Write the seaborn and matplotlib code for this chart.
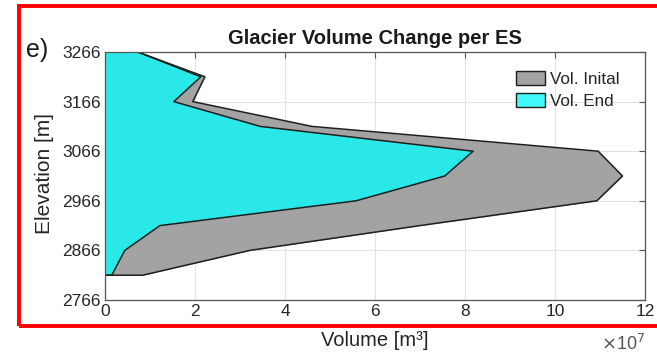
import pandas as pd
import matplotlib.pyplot as plt
import seaborn as sns
from matplotlib.patches import Patch, Rectangle
from matplotlib.ticker import FuncFormatter

# elevation bands (m) and volumes (m3)
elevacion = [2816, 2866, 2916, 2966, 3016, 3066, 3116, 3166, 3216, 3266]
vol_inicial = [0.84e7, 3.22e7, 7.0e7, 10.93e7, 11.5e7, 10.96e7, 4.6e7, 1.95e7, 2.22e7, 0.73e7]
vol_final = [0.15e7, 0.44e7, 1.22e7, 5.58e7, 7.55e7, 8.18e7, 3.45e7, 1.53e7, 2.13e7, 0.73e7]
y_ticks = [2766, 2866, 2966, 3066, 3166, 3266]
x_ticks = [0, 2e7, 4e7, 6e7, 8e7, 10e7, 12e7]

gris = '#a3a3a3'
cian = '#2be8e8'

sns.set_style('white')
plt.rcParams['font.family'] = ['Liberation Sans', 'DejaVu Sans']

fig = plt.figure(figsize=(6.57, 3.54), dpi=100)
ax = fig.add_axes([105 / 657, 1 - 300 / 354, 540 / 657, 248 / 354])

ax.fill_betweenx(elevacion, 0, vol_inicial, color=gris, lw=0, zorder=2)
ax.fill_betweenx(elevacion, 0, vol_final, color=cian, lw=0, zorder=3)


def contorno(vols):
    return pd.DataFrame({'vol': [0] + vols, 'elev': [elevacion[0]] + elevacion})


sns.lineplot(data=contorno(vol_inicial), x='vol', y='elev', sort=False,
             color='#1e1e1e', lw=1.1, ax=ax, zorder=4)
sns.lineplot(data=contorno(vol_final), x='vol', y='elev', sort=False,
             color='#1e1e1e', lw=1.1, ax=ax, zorder=5)

ax.set_xlim(0, 12e7)
ax.set_ylim(2766, 3266)
ax.set_xticks(x_ticks)
ax.set_yticks(y_ticks)
ax.xaxis.set_major_formatter(FuncFormatter(lambda v, p: f'{v / 1e7:g}'))
ax.grid(True, color='#e2e2e2', lw=0.8, zorder=0)
ax.set_axisbelow(True)
ax.tick_params(direction='in', length=4, width=0.8, colors='#555555',
               labelcolor='#262626', labelsize=12.5, top=True, right=True, pad=3)
for s in ax.spines.values():
    s.set_color('#555555')
    s.set_linewidth(0.9)
    s.set_zorder(6)
ax.set_xlabel('')
ax.set_ylabel('')

handles = [Patch(facecolor=gris, edgecolor='#1e1e1e', lw=1.0),
           Patch(facecolor='#40fafa', edgecolor='#1e1e1e', lw=1.0)]
fig.legend(handles, ['Vol. Inital', 'Vol. End'], loc='upper left',
           bbox_to_anchor=(516 / 657, 1 - 71 / 354), frameon=False,
           fontsize=12.3, handlelength=1.7, handleheight=0.9, handletextpad=0.3,
           labelspacing=0.35, borderpad=0, borderaxespad=0, labelcolor='#262626')

fig.text(375 / 657, 1 - 38 / 354, 'Glacier Volume Change per ES', ha='center',
         va='center', fontsize=14.5, fontweight='bold', color='#1a1a1a')
fig.text(26 / 657, 1 - 50 / 354, 'e)', ha='left', va='center', fontsize=18,
         color='#1a1a1a')
fig.text(44 / 657, 1 - 174 / 354, 'Elevation [m]', rotation=90, ha='center',
         va='center', fontsize=15, color='#262626')
fig.text(375 / 657, 1 - 341 / 354, 'Volume [m³]', ha='center', va='center',
         fontsize=14.5, color='#262626')
fig.text(645 / 657, 1 - 344 / 354, r'$\times$10$^{7}$', ha='right', va='center',
         fontsize=13, color='#555555')

fig.patches.append(Rectangle((19 / 657, 1 - 326 / 354), 1.0, 320 / 354,
                             transform=fig.transFigure, fill=False,
                             edgecolor='#ff0000', lw=2.8, zorder=10))

fig.savefig('out.png', dpi=100)
